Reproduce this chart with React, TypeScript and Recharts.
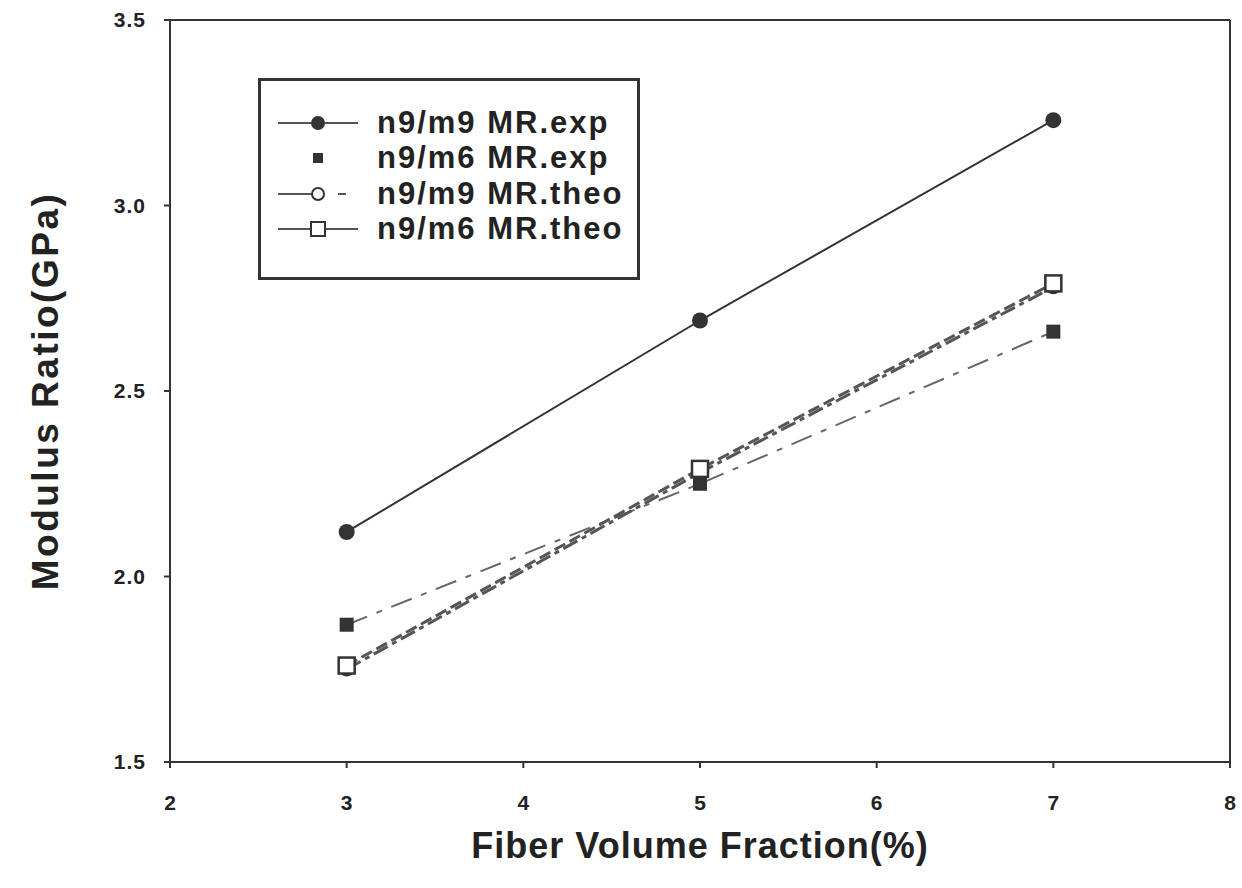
import { LineChart, Line, XAxis, YAxis, ReferenceLine, Label } from 'recharts';

const fraction = [3, 5, 7];
const m9Exp = [2.12, 2.69, 3.23];
const m6Exp = [1.87, 2.25, 2.66];
const m9Theo = [1.75, 2.28, 2.78];
const m6Theo = [1.76, 2.29, 2.79];

const xTicks = [2, 3, 4, 5, 6, 7, 8];
const yTicks = [1.5, 2.0, 2.5, 3.0, 3.5];

const toRows = (ys: number[]) => fraction.map((x, i) => ({ x, y: ys[i] }));

const FONT = '"Liberation Sans", Arial, sans-serif';
const INK = '#333';

const FilledCircle = (props: any) => {
  const { cx, cy } = props;
  if (cx == null || cy == null) return null;
  return <circle cx={cx} cy={cy} r={8} fill={INK} />;
};

const FilledSquare = (props: any) => {
  const { cx, cy } = props;
  if (cx == null || cy == null) return null;
  return <rect x={cx - 7} y={cy - 7} width={14} height={14} fill={INK} />;
};

const OpenCircle = (props: any) => {
  const { cx, cy } = props;
  if (cx == null || cy == null) return null;
  return <circle cx={cx} cy={cy} r={6} fill="#fff" stroke={INK} strokeWidth={2.5} />;
};

const OpenSquare = (props: any) => {
  const { cx, cy } = props;
  if (cx == null || cy == null) return null;
  return <rect x={cx - 8} y={cy - 8} width={16} height={16} fill="#fff" stroke={INK} strokeWidth={2.5} />;
};

const legendItems = [
  { name: 'n9/m9 MR.exp', dash: undefined as string | undefined, line: true, mark: 'fc' },
  { name: 'n9/m6 MR.exp', dash: undefined, line: false, mark: 'fs' },
  { name: 'n9/m9 MR.theo', dash: '40 20 8 30', line: true, mark: 'oc' },
  { name: 'n9/m6 MR.theo', dash: undefined, line: true, mark: 'os' },
];

const BoxLegend = () => (
  <div
    style={{
      position: 'absolute',
      left: 258,
      top: 78,
      width: 382,
      height: 202,
      border: `3px solid ${INK}`,
      boxSizing: 'border-box',
      background: '#fff',
      paddingTop: 24,
      paddingLeft: 17,
    }}
  >
    {legendItems.map((it) => (
      <div key={it.name} style={{ display: 'flex', alignItems: 'center', height: 35.5 }}>
        <svg width={82} height={20} style={{ flex: 'none' }}>
          {it.line && (
            <line x1={0} y1={10} x2={80} y2={10} stroke="#555" strokeWidth={2} strokeDasharray={it.dash} />
          )}
          {it.mark === 'fc' && <circle cx={40} cy={10} r={7} fill={INK} />}
          {it.mark === 'fs' && <rect x={35} y={5} width={10} height={10} fill={INK} />}
          {it.mark === 'oc' && <circle cx={40} cy={10} r={6} fill="#fff" stroke={INK} strokeWidth={2} />}
          {it.mark === 'os' && <rect x={33} y={3} width={14} height={14} fill="#fff" stroke={INK} strokeWidth={2} />}
        </svg>
        <span
          style={{
            fontFamily: FONT,
            fontWeight: 700,
            fontSize: 31,
            letterSpacing: 2,
            color: '#222',
            marginLeft: 17,
            whiteSpace: 'nowrap',
          }}
        >
          {it.name}
        </span>
      </div>
    ))}
  </div>
);

export default function App() {
  return (
    <div style={{ position: 'absolute', left: 0, top: 0, width: 1242, height: 888, background: '#fff' }}>
      <LineChart width={1242} height={888} margin={{ top: 20, right: 12, left: 20, bottom: 0 }}>
        <XAxis
          dataKey="x"
          type="number"
          domain={[2, 8]}
          ticks={xTicks}
          allowDuplicatedCategory={false}
          stroke={INK}
          strokeWidth={2}
          tickSize={6}
          tickMargin={27}
          height={126}
          tick={{ fill: '#222', fontSize: 21, fontWeight: 700, fontFamily: FONT }}
        >
          <Label
            value="Fiber Volume Fraction(%)"
            position="insideBottom"
            offset={30}
            style={{ fill: '#222', fontSize: 36, fontWeight: 700, fontFamily: FONT, letterSpacing: 1 }}
          />
        </XAxis>
        <YAxis
          dataKey="y"
          type="number"
          domain={[1.5, 3.5]}
          ticks={yTicks}
          tickFormatter={(v: number) => v.toFixed(1)}
          stroke={INK}
          strokeWidth={2}
          tickSize={6}
          tickMargin={18}
          width={150}
          tick={{ fill: '#222', fontSize: 21, fontWeight: 700, fontFamily: FONT, letterSpacing: 1 }}
        >
          <Label
            value="Modulus Ratio(GPa)"
            angle={-90}
            position="insideLeft"
            offset={25}
            style={{
              fill: '#222',
              fontSize: 37,
              fontWeight: 700,
              fontFamily: FONT,
              letterSpacing: 2.5,
              textAnchor: 'middle',
            }}
          />
        </YAxis>
        <ReferenceLine y={3.5} stroke={INK} strokeWidth={2} />
        <ReferenceLine x={8} stroke={INK} strokeWidth={2} />
        <Line
          data={toRows(m6Exp)}
          dataKey="y"
          name="n9/m6 MR.exp"
          stroke="#666"
          strokeWidth={2}
          strokeDasharray="22 10 6 10"
          dot={<FilledSquare />}
          legendType="none"
          isAnimationActive={false}
        />
        <Line
          data={toRows(m9Theo)}
          dataKey="y"
          name="n9/m9 MR.theo"
          stroke="#555"
          strokeWidth={3}
          strokeDasharray="16 5 5 5"
          dot={<OpenCircle />}
          isAnimationActive={false}
        />
        <Line
          data={toRows(m6Theo)}
          dataKey="y"
          name="n9/m6 MR.theo"
          stroke="#555"
          strokeWidth={3}
          strokeDasharray="12 5"
          dot={<OpenSquare />}
          isAnimationActive={false}
        />
        <Line
          data={toRows(m9Exp)}
          dataKey="y"
          name="n9/m9 MR.exp"
          stroke={INK}
          strokeWidth={2}
          dot={<FilledCircle />}
          isAnimationActive={false}
        />
      </LineChart>
      <BoxLegend />
    </div>
  );
}
